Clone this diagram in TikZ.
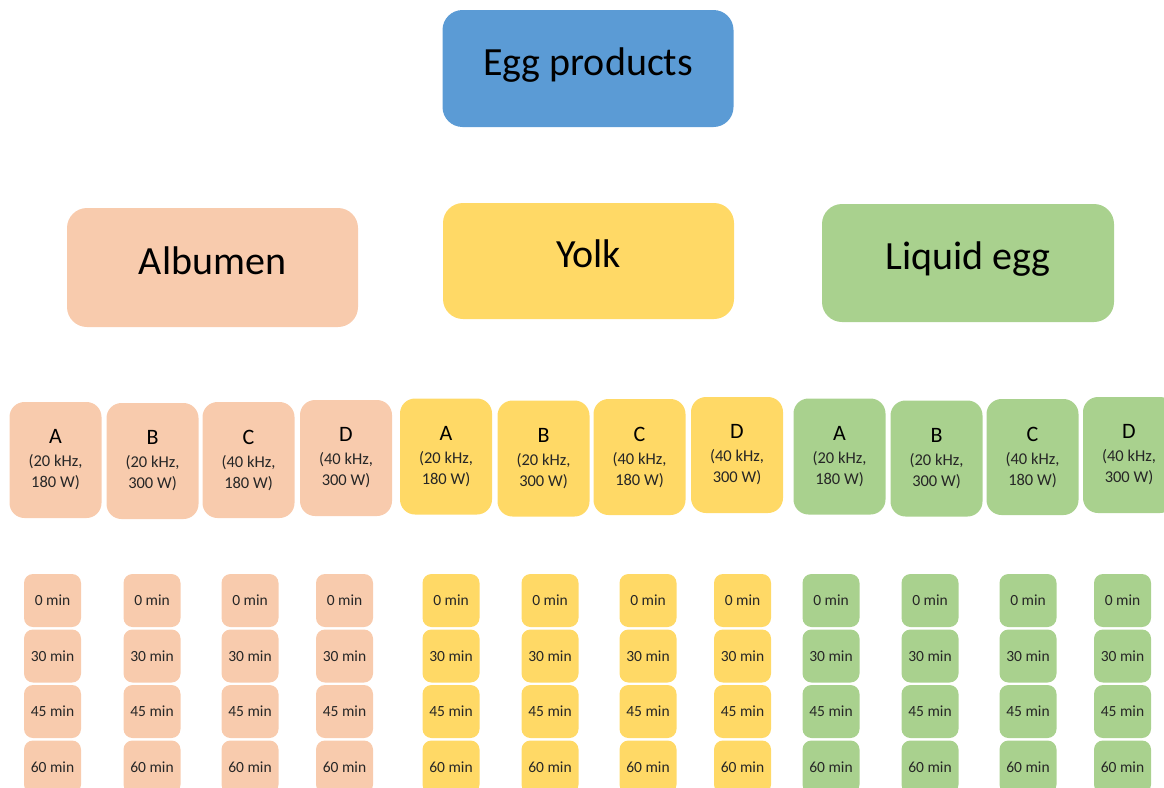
\documentclass[tikz,border=0pt]{standalone}
\usepackage{fontspec}
\setmainfont{Carlito}
\definecolor{eggblue}{HTML}{5B9BD5}
\definecolor{peach}{HTML}{F8CBAD}
\definecolor{yolky}{HTML}{FFD966}
\definecolor{leaf}{HTML}{A9D18E}
\definecolor{ink}{HTML}{262626}
\tikzset{
  titlebox/.style={rounded corners=20pt, minimum width=291pt, minimum height=117pt,
    inner sep=0pt, text height=28pt, text depth=14.5pt,
    font=\fontsize{40}{46}\selectfont, text=black},
  setbox/.style={rounded corners=15pt, minimum width=92pt, minimum height=116pt,
    inner sep=0pt, align=center, font=\fontsize{16.5}{21}\selectfont, text=ink},
  tbox/.style={rounded corners=9pt, minimum width=57pt, minimum height=53pt,
    inner sep=0pt, font=\fontsize{15.5}{19}\selectfont, text=ink},
}
\begin{document}
\begin{tikzpicture}[x=1pt,y=-1pt]
\useasboundingbox (0,0) rectangle (1164,787);
\clip (0,0) rectangle (1164,787);
% top level
\node[titlebox, fill=eggblue] (egg) at (588,68.5) {Egg products};
\node[titlebox, fill=peach, minimum height=119pt] (alb) at (212.5,267.5) {Albumen};
\node[titlebox, fill=yolky, minimum height=116pt] (yolk) at (588.5,261) {Yolk};
\node[titlebox, fill=leaf, minimum height=118pt, minimum width=292pt] (liq) at (968,263) {Liquid egg};
% treatment boxes
\foreach \nm/\x/\y/\col/\L/\f/\p in {
  albA/55.5/460/peach/A/20/180, albB/152.5/461/peach/B/20/300,
  albC/248.5/460/peach/C/40/180, albD/346/458/peach/D/40/300,
  yolkA/446/456.5/yolky/A/20/180, yolkB/543.5/458.5/yolky/B/20/300,
  yolkC/639.5/457/yolky/C/40/180, yolkD/737/455/yolky/D/40/300,
  liqA/839.5/456.5/leaf/A/20/180, liqB/936.5/458.5/leaf/B/20/300,
  liqC/1032.5/457/leaf/C/40/180, liqD/1129/455/leaf/D/40/300}{
  \node[setbox, fill=\col] (\nm) at (\x,\y)
    {{\fontsize{22}{24}\selectfont\color{black}\L}\\[2pt](\f\ kHz,\\\p\ W)};
}
% time boxes
\foreach \nm/\x/\col in {
  albA/52.5/peach, albB/152/peach, albC/250/peach, albD/344.5/peach,
  yolkA/451/yolky, yolkB/550/yolky, yolkC/648/yolky, yolkD/742.5/yolky,
  liqA/831/leaf, liqB/930/leaf, liqC/1028/leaf, liqD/1122.5/leaf}{
  \foreach \t/\y in {0/600.5, 30/656, 45/711.5, 60/767}{
    \node[tbox, fill=\col] (\nm-\t) at (\x,\y) {\t\ min};
  }
}
\end{tikzpicture}
\end{document}
